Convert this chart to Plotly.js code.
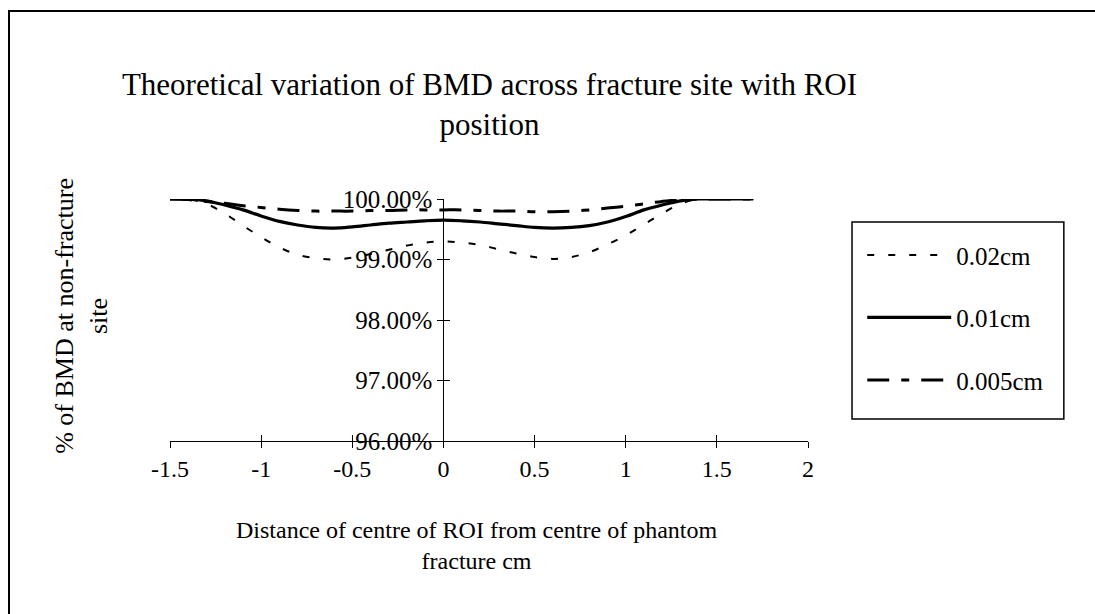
<!DOCTYPE html>
<html>
<head>
<meta charset="utf-8">
<script src="https://cdn.plot.ly/plotly-3.0.1.min.js"></script>
<style>
  html, body { margin: 0; padding: 0; background: #fff; overflow: hidden; width: 1095px; height: 614px; }
  #frame { position: absolute; left: 8px; top: 10px; width: 1400px; height: 800px;
           border-left: 2px solid #000; border-top: 2px solid #000; }
  #chart { position: absolute; left: 0; top: 0; width: 1095px; height: 614px; }
</style>
</head>
<body>
<div id="frame"></div>
<div id="chart"></div>
<script>
// ROI offset from the centre of the phantom fracture (cm)
const roiOffset = [-1.5, -1.4, -1.3, -1.2, -1.1, -1.0, -0.9, -0.8, -0.7, -0.6, -0.5,
                   -0.4, -0.3, -0.2, -0.1, 0.0, 0.1, 0.2, 0.3, 0.4, 0.5, 0.6,
                   0.7, 0.8, 0.9, 1.0, 1.1, 1.2, 1.3, 1.4, 1.5, 1.6, 1.7];

// BMD as % of the non-fracture site, one series per fracture width
const bmd002 = [100, 100, 99.92, 99.76, 99.56, 99.37, 99.20, 99.08, 99.02, 99.00, 99.03,
                99.09, 99.16, 99.23, 99.28, 99.30, 99.28, 99.24, 99.17, 99.10, 99.04, 99.01,
                99.04, 99.12, 99.25, 99.40, 99.58, 99.76, 99.92, 100, 100, 100, 100];
const bmd001 = [100, 100, 99.97, 99.90, 99.82, 99.72, 99.63, 99.57, 99.53, 99.52, 99.54,
                99.57, 99.60, 99.62, 99.64, 99.65, 99.64, 99.62, 99.59, 99.56, 99.53, 99.52,
                99.53, 99.56, 99.62, 99.71, 99.82, 99.90, 99.97, 100, 100, 100, 100];
const bmd0005 = [100, 99.99, 99.96, 99.93, 99.89, 99.86, 99.83, 99.81, 99.80, 99.80, 99.80,
                 99.81, 99.81, 99.82, 99.82, 99.82, 99.82, 99.81, 99.80, 99.80, 99.79, 99.79,
                 99.80, 99.82, 99.85, 99.88, 99.92, 99.96, 99.99, 100, 100, 100, 100];

const seriesNames = ['0.02cm', '0.01cm', '0.005cm'];
const xTicks = [-1.5, -1, -0.5, 0, 0.5, 1, 1.5, 2];
const yTicks = [96, 97, 98, 99, 100];

const serif = 'Liberation Serif, Times New Roman, serif';
const xRange = [-1.5, 2];
const yRange = [96, 100];
// fraction along the x axis where x = 0 (the y axis crosses there)
const yAxisPos = (0 - xRange[0]) / (xRange[1] - xRange[0]);

const traces = [
  { x: roiOffset, y: bmd002, name: seriesNames[0], legendgroup: 'a',
    line: { color: '#000', width: 2, dash: '7px,14px', shape: 'spline' } },
  { x: roiOffset, y: bmd001, name: seriesNames[1], legendgroup: 'b',
    line: { color: '#000', width: 3.2, shape: 'spline' } },
  { x: roiOffset, y: bmd0005, name: seriesNames[2], legendgroup: 'c',
    line: { color: '#000', width: 3, dash: '22px,12px,8px,12px', shape: 'spline' } },
  // empty trace that carries the overlay axes used for the crossing tick marks
  { x: [], y: [], xaxis: 'x2', yaxis: 'y2', showlegend: false, hoverinfo: 'skip' }
].map(t => Object.assign({ type: 'scatter', mode: 'lines' }, t));

const axisCommon = { showgrid: false, zeroline: false, tickcolor: '#000', tickwidth: 1, ticklen: 6 };

const layout = {
  width: 1095, height: 614,
  margin: { l: 170, r: 287, t: 199, b: 173 },
  paper_bgcolor: 'rgba(0,0,0,0)',
  plot_bgcolor: 'rgba(0,0,0,0)',
  font: { family: serif, color: '#000' },
  title: {
    text: 'Theoretical variation of BMD across fracture site with ROI<br>position',
    font: { family: serif, size: 31, color: '#000' },
    xref: 'container', yref: 'container', x: 0.447, y: 0.846,
    xanchor: 'center', yanchor: 'middle'
  },
  xaxis: Object.assign({}, axisCommon, {
    range: xRange, tickvals: xTicks, ticktext: xTicks.map(v => String(v)),
    ticks: 'outside', showline: true, linecolor: '#000', linewidth: 1,
    tickfont: { family: serif, size: 24, color: '#000' }
  }),
  xaxis2: Object.assign({}, axisCommon, {
    range: xRange, tickvals: xTicks, overlaying: 'x', anchor: 'y2',
    ticks: 'inside', showticklabels: false, showline: false
  }),
  yaxis: Object.assign({}, axisCommon, {
    range: yRange, tickvals: yTicks, ticktext: yTicks.map(v => v.toFixed(2) + '%'),
    anchor: 'free', position: yAxisPos,
    ticks: 'outside', showline: true, linecolor: '#000', linewidth: 1,
    tickfont: { family: serif, size: 25, color: '#000' }
  }),
  yaxis2: Object.assign({}, axisCommon, {
    range: yRange, tickvals: yTicks, overlaying: 'y', anchor: 'free', position: yAxisPos,
    ticks: 'inside', showticklabels: false, showline: false
  }),
  showlegend: true,
  legend: {
    x: 1.085, y: 0.863, xanchor: 'left', yanchor: 'top',
    traceorder: 'grouped', tracegroupgap: 27,
    itemwidth: 84, borderwidth: 0, bgcolor: 'rgba(0,0,0,0)',
    font: { family: serif, size: 25, color: '#000' }
  },
  shapes: [
    // legend frame
    { type: 'rect', xref: 'paper', yref: 'paper',
      x0: 1.069, x1: 1.401, y0: 0.091, y1: 0.905,
      line: { color: '#000', width: 1.5 }, fillcolor: 'rgba(0,0,0,0)' },
    // the axis-title box cuts off the end of its first line
    { type: 'rect', xref: 'paper', yref: 'paper', layer: 'above',
      x0: -0.204, x1: -0.118, y0: 1.074, y1: 1.202,
      line: { width: 0 }, fillcolor: '#fff' }
  ],
  annotations: [
    { text: 'Distance of centre of ROI from centre of phantom<br>fracture cm',
      xref: 'paper', yref: 'paper', x: 0.481, y: -0.43,
      xanchor: 'center', yanchor: 'middle', showarrow: false,
      font: { family: serif, size: 24, color: '#000' } },
    { text: '% of BMD at non-fracture<br>site',
      xref: 'paper', yref: 'paper', x: -0.138, y: 0.517, textangle: -90,
      xanchor: 'center', yanchor: 'middle', showarrow: false,
      font: { family: serif, size: 26, color: '#000' } }
  ]
};

Plotly.newPlot('chart', traces, layout, { staticPlot: true, displayModeBar: false });
</script>
</body>
</html>
